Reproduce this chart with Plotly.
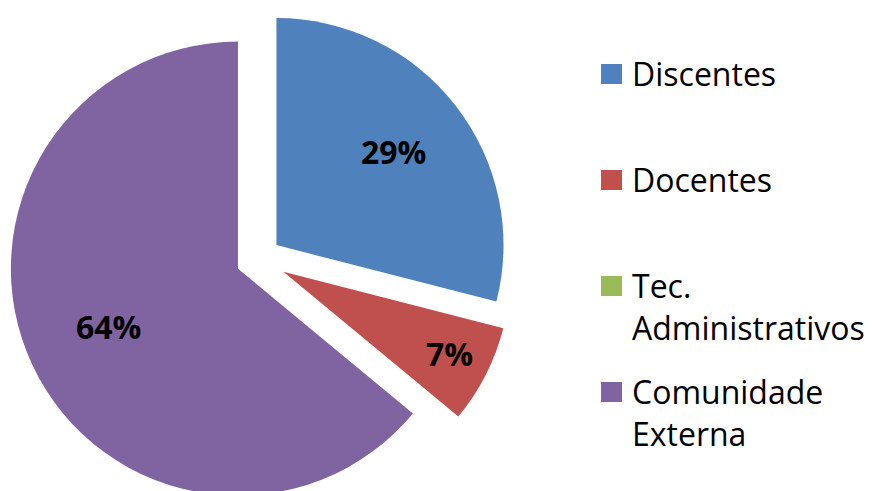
import math
import plotly.graph_objects as go

categories = ["Discentes", "Docentes", "Tec.<br>Administrativos", "Comunidade<br>Externa"]
values = [29, 7, 0, 64]
colors = ["#4F81BD", "#C0504D", "#9BBB59", "#8064A2"]
pulls = [0.1, 0.123, 0.0, 0.1]
label_radius = [0.65, 0.82, 0.6, 0.63]  # fraction of radius, from slice apex

W, H = 872, 514
FONT = "Open Sans"
DOM_X = [0, 517 / W]
DOM_Y = [0, 510 / H]

fig = go.Figure(go.Pie(
    labels=categories,
    values=values,
    textinfo="none",
    marker=dict(colors=colors, line=dict(width=0)),
    pull=pulls,
    sort=False,
    direction="clockwise",
    rotation=0,
    showlegend=False,
    domain=dict(x=DOM_X, y=DOM_Y),
    hoverinfo="skip",
))

# percentage labels placed along each slice's mid-angle (same geometry plotly uses)
box_w = (DOM_X[1] - DOM_X[0]) * W
box_h = (DOM_Y[1] - DOM_Y[0]) * H
cx = (DOM_X[0] + DOM_X[1]) / 2 * W
cy = (1 - (DOM_Y[0] + DOM_Y[1]) / 2) * H
R = min(box_w, box_h) / (2 * (1 + max(pulls)))
total = sum(values)
cum = 0
for v, p, f in zip(values, pulls, label_radius):
    mid = (cum + v / 2) / total * 2 * math.pi
    cum += v
    if v <= 0:
        continue
    dx, dy = math.sin(mid), -math.cos(mid)
    px = cx + (p + f) * R * dx
    py = cy + (p + f) * R * dy
    fig.add_annotation(xref="paper", yref="paper", x=px / W, y=1 - py / H,
                       xanchor="center", yanchor="middle", showarrow=False,
                       yshift=3,
                       text="%d%%" % round(100 * v / total),
                       font=dict(family=FONT, size=32, color="black", weight="bold"))

# legend drawn as shapes + text
leg_x0 = 601
leg_tops = [64, 170, 276, 382]
for lab, col, top in zip(categories, colors, leg_tops):
    fig.add_shape(type="rect", xref="paper", yref="paper",
                  x0=leg_x0 / W, x1=(leg_x0 + 21) / W,
                  y0=1 - (top + 20) / H, y1=1 - top / H,
                  fillcolor=col, line=dict(width=0))
    fig.add_annotation(xref="paper", yref="paper",
                       x=630 / W, y=1 - (top - 14) / H,
                       xanchor="left", yanchor="top", align="left",
                       text=lab, showarrow=False,
                       font=dict(family=FONT, size=32, color="black"))

fig.update_layout(
    width=W, height=H,
    margin=dict(l=0, r=0, t=0, b=0),
    paper_bgcolor="white",
    plot_bgcolor="white",
)

fig.write_html("out.html", config={"displayModeBar": False},
               post_script="document.body.style.margin='0';document.body.style.overflow='hidden';document.documentElement.style.overflow='hidden';")
